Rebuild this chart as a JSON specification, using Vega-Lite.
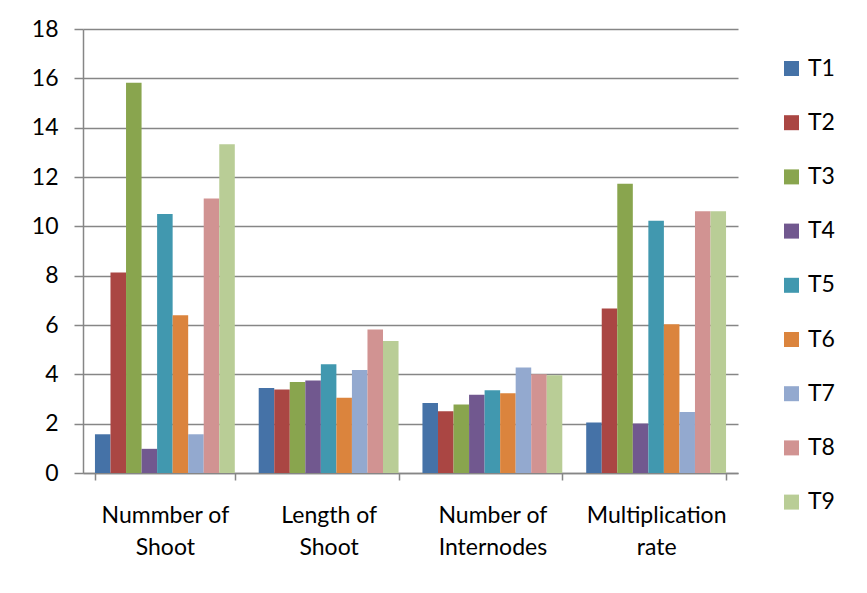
{
  "$schema": "https://vega.github.io/schema/vega-lite/v6.json",
  "width": 655,
  "height": 444,
  "autosize": {"type": "none"},
  "padding": {"left": 83, "top": 29, "right": 129, "bottom": 120},
  "background": "white",
  "config": {
    "view": {"stroke": null},
    "font": "Lato",
    "axis": {"labelFont": "Lato", "labelColor": "black"}
  },
  "data": {
    "values": [
      {"cat": "Nummber of|Shoot", "t": "T1", "v": 1.57},
      {"cat": "Nummber of|Shoot", "t": "T2", "v": 8.13},
      {"cat": "Nummber of|Shoot", "t": "T3", "v": 15.82},
      {"cat": "Nummber of|Shoot", "t": "T4", "v": 0.98},
      {"cat": "Nummber of|Shoot", "t": "T5", "v": 10.5},
      {"cat": "Nummber of|Shoot", "t": "T6", "v": 6.4},
      {"cat": "Nummber of|Shoot", "t": "T7", "v": 1.57},
      {"cat": "Nummber of|Shoot", "t": "T8", "v": 11.13},
      {"cat": "Nummber of|Shoot", "t": "T9", "v": 13.33},
      {"cat": "Length of|Shoot", "t": "T1", "v": 3.45},
      {"cat": "Length of|Shoot", "t": "T2", "v": 3.39},
      {"cat": "Length of|Shoot", "t": "T3", "v": 3.69},
      {"cat": "Length of|Shoot", "t": "T4", "v": 3.75},
      {"cat": "Length of|Shoot", "t": "T5", "v": 4.41},
      {"cat": "Length of|Shoot", "t": "T6", "v": 3.05},
      {"cat": "Length of|Shoot", "t": "T7", "v": 4.18},
      {"cat": "Length of|Shoot", "t": "T8", "v": 5.82},
      {"cat": "Length of|Shoot", "t": "T9", "v": 5.35},
      {"cat": "Number of|Internodes", "t": "T1", "v": 2.84},
      {"cat": "Number of|Internodes", "t": "T2", "v": 2.5},
      {"cat": "Number of|Internodes", "t": "T3", "v": 2.78},
      {"cat": "Number of|Internodes", "t": "T4", "v": 3.17},
      {"cat": "Number of|Internodes", "t": "T5", "v": 3.35},
      {"cat": "Number of|Internodes", "t": "T6", "v": 3.23},
      {"cat": "Number of|Internodes", "t": "T7", "v": 4.28},
      {"cat": "Number of|Internodes", "t": "T8", "v": 4.0},
      {"cat": "Number of|Internodes", "t": "T9", "v": 3.96},
      {"cat": "Multiplication|rate", "t": "T1", "v": 2.05},
      {"cat": "Multiplication|rate", "t": "T2", "v": 6.67},
      {"cat": "Multiplication|rate", "t": "T3", "v": 11.73},
      {"cat": "Multiplication|rate", "t": "T4", "v": 2.01},
      {"cat": "Multiplication|rate", "t": "T5", "v": 10.23},
      {"cat": "Multiplication|rate", "t": "T6", "v": 6.03},
      {"cat": "Multiplication|rate", "t": "T7", "v": 2.47},
      {"cat": "Multiplication|rate", "t": "T8", "v": 10.61},
      {"cat": "Multiplication|rate", "t": "T9", "v": 10.61}
    ]
  },
  "mark": {"type": "bar"},
  "encoding": {
    "x": {
      "field": "cat",
      "type": "nominal",
      "sort": null,
      "scale": {"paddingInner": 0.146, "paddingOuter": 0.073},
      "axis": {
        "title": null,
        "labelAngle": 0,
        "labelExpr": "split(datum.label, '|')",
        "labelFontSize": 23,
        "labelLineHeight": 32,
        "labelPadding": 24,
        "tickBand": "extent",
        "tickSize": 7,
        "tickColor": "#868686",
        "tickWidth": 1.5,
        "domainColor": "#868686",
        "domainWidth": 1.5,
        "labelLimit": 0
      }
    },
    "xOffset": {"field": "t", "type": "nominal", "scale": {"paddingInner": 0, "paddingOuter": 0}},
    "y": {
      "field": "v",
      "type": "quantitative",
      "scale": {"domain": [0, 18], "nice": false},
      "axis": {
        "title": null,
        "values": [0, 2, 4, 6, 8, 10, 12, 14, 16, 18],
        "labelFontSize": 23,
        "labelPadding": 16,
        "tickSize": 9,
        "tickColor": "#868686",
        "tickWidth": 1.5,
        "domainColor": "#868686",
        "domainWidth": 1.5,
        "gridColor": "#868686",
        "gridWidth": 1.5,
        "grid": true
      }
    },
    "color": {
      "field": "t",
      "type": "nominal",
      "scale": {
        "domain": ["T1", "T2", "T3", "T4", "T5", "T6", "T7", "T8", "T9"],
        "range": ["#4572A7", "#AA4643", "#89A54E", "#71588F", "#4198AF", "#DB843D", "#93A9CF", "#D19392", "#B9CD96"]
      },
      "legend": {
        "title": null,
        "orient": "none",
        "legendX": 697,
        "legendY": 28,
        "symbolType": "square",
        "symbolSize": 225,
        "symbolStrokeWidth": 0,
        "labelFontSize": 23,
        "labelColor": "black",
        "labelFont": "Lato",
        "rowPadding": 30.2,
        "labelOffset": 5,
        "padding": 0
      }
    }
  }
}
